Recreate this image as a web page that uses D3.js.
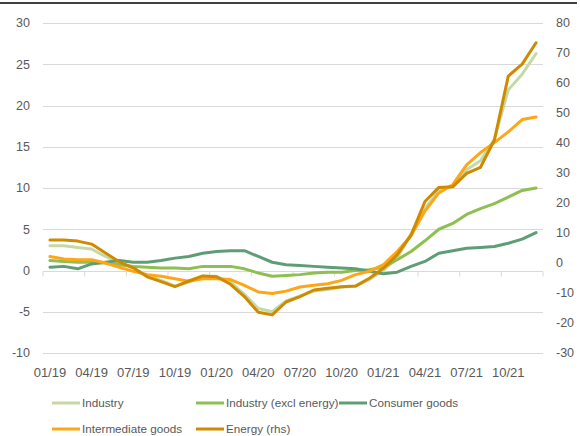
<!DOCTYPE html>
<html><head><meta charset="utf-8">
<script src="https://cdn.jsdelivr.net/npm/d3@7"></script>
<style>
html,body{margin:0;padding:0;background:#fff;}
svg{display:block;font-family:"Liberation Sans",Arial,sans-serif;}
</style></head>
<body>
<svg id="chart" width="580" height="436"></svg>
<script>
const months = [];
for (const yy of ["19","20","21"]) for (let m = 1; m <= 12; m++) months.push((m<10?"0":"")+m+"/"+yy);
const tickLabels = ["01/19","04/19","07/19","10/19","01/20","04/20","07/20","10/20","01/21","04/21","07/21","10/21"];
const leftTicks = [-10,-5,0,5,10,15,20,25,30];
const rightTicks = [-30,-20,-10,0,10,20,30,40,50,60,70,80];

const industry = [3.0,3.0,2.8,2.6,1.7,0.9,0.3,-0.6,-1.2,-1.9,-1.4,-0.7,-0.7,-1.4,-2.9,-4.6,-5.0,-3.7,-3.1,-2.5,-2.3,-2.0,-1.9,-1.1,0.0,1.5,4.5,7.5,9.7,10.3,12.2,13.3,15.9,21.9,23.8,26.3];
const industryExcl = [1.2,1.1,1.0,1.0,0.9,0.7,0.5,0.4,0.3,0.3,0.2,0.5,0.5,0.5,0.2,-0.3,-0.7,-0.6,-0.5,-0.3,-0.2,-0.2,0.0,0.1,0.4,1.3,2.3,3.6,5.0,5.7,6.8,7.5,8.1,8.9,9.7,10.0];
const consumer = [0.4,0.5,0.2,0.8,1.0,1.2,1.0,1.0,1.2,1.5,1.7,2.1,2.3,2.4,2.4,1.7,1.0,0.7,0.6,0.5,0.4,0.3,0.2,-0.1,-0.4,-0.2,0.5,1.1,2.1,2.4,2.7,2.8,2.9,3.3,3.8,4.6];
const intermediate = [1.7,1.4,1.3,1.3,0.9,0.4,-0.1,-0.5,-0.7,-1.0,-1.3,-1.0,-1.0,-1.1,-1.8,-2.6,-2.8,-2.5,-2.0,-1.8,-1.6,-1.2,-0.5,-0.1,0.7,2.3,4.2,7.2,9.4,10.4,12.8,14.3,15.5,16.8,18.3,18.6];
const energy = [7.7,7.7,7.3,6.3,3.3,0.4,-1.6,-4.6,-6.2,-7.9,-6.0,-4.3,-4.6,-7.1,-11.2,-16.4,-17.3,-13.0,-11.2,-9.0,-8.4,-7.9,-7.7,-5.1,-1.8,2.7,9.3,20.5,25.2,25.4,29.9,31.9,41.0,62.3,66.3,73.4];

const series = [
  {name:"Industry", values:industry, color:"#C5D9A6", axis:"left"},
  {name:"Industry (excl energy)", values:industryExcl, color:"#8DC050", axis:"left"},
  {name:"Consumer goods", values:consumer, color:"#5F9D76", axis:"left"},
  {name:"Intermediate goods", values:intermediate, color:"#FFA617", axis:"left"},
  {name:"Energy (rhs)", values:energy, color:"#CF8A00", axis:"right"}
];

const svg = d3.select("#chart");
const L = 43, R = 543, T = 23, B = 353;
const x = d3.scaleBand().domain(months).range([L,R]).paddingInner(0).paddingOuter(0);
const yL = d3.scaleLinear().domain([-10,30]).range([B,T]);
const yR = d3.scaleLinear().domain([-30,80]).range([B,T]);
const gridColor = "#D9D9D9", textColor = "#595959";

// top border line
svg.append("line").attr("x1",0).attr("x2",577).attr("y1",3).attr("y2",3).attr("stroke","#000").attr("stroke-width",1.5);

// gridlines
svg.append("g").selectAll("line").data(leftTicks).join("line")
  .attr("x1",L).attr("x2",R).attr("y1",d=>Math.round(yL(d))+0.5).attr("y2",d=>Math.round(yL(d))+0.5)
  .attr("stroke",gridColor).attr("stroke-width",1);

// left axis labels
svg.append("g").selectAll("text").data(leftTicks).join("text")
  .attr("x",30).attr("y",d=>yL(d)).attr("dy","0.35em").attr("text-anchor","end")
  .attr("font-size",12.5).attr("fill",textColor).text(d=>d);

// right axis labels
svg.append("g").selectAll("text").data(rightTicks).join("text")
  .attr("x",556).attr("y",d=>yR(d)).attr("dy","0.35em").attr("text-anchor","start")
  .attr("font-size",12.5).attr("fill",textColor).text(d=>d);

// x axis ticks at category boundaries every 3 months
const y0 = Math.round(yL(0))+0.5;
const tickIdx = d3.range(0, months.length+1, 3);
svg.append("g").selectAll("line").data(tickIdx).join("line")
  .attr("x1",i=> i<months.length ? x(months[i]) : R).attr("x2",i=> i<months.length ? x(months[i]) : R)
  .attr("y1",y0).attr("y2",y0+5).attr("stroke",gridColor).attr("stroke-width",1);

// x labels
svg.append("g").selectAll("text").data(tickLabels).join("text")
  .attr("x",d=>x(d)+x.bandwidth()/2).attr("y",377).attr("text-anchor","middle")
  .attr("font-size",13).attr("fill",textColor).text(d=>d);

// lines
series.forEach(s=>{
  const ys = s.axis==="left" ? yL : yR;
  const line = d3.line().x((d,i)=>x(months[i])+x.bandwidth()/2).y(d=>ys(d));
  svg.append("path").datum(s.values).attr("d",line).attr("fill","none")
    .attr("stroke",s.color).attr("stroke-width",3).attr("stroke-linejoin","round").attr("stroke-linecap","round");
});

// legend
const legendPos = [[52,403],[196,403],[339,403],[52,429],[196,429]];
series.forEach((s,i)=>{
  const [lx,ly] = legendPos[i];
  const g = svg.append("g");
  g.append("line").attr("x1",lx).attr("x2",lx+28).attr("y1",ly).attr("y2",ly).attr("stroke",s.color).attr("stroke-width",3);
  g.append("text").attr("x",lx+30).attr("y",ly).attr("dy","0.35em").attr("font-size",11.7).attr("fill",textColor).text(s.name);
});
</script>
</body></html>
